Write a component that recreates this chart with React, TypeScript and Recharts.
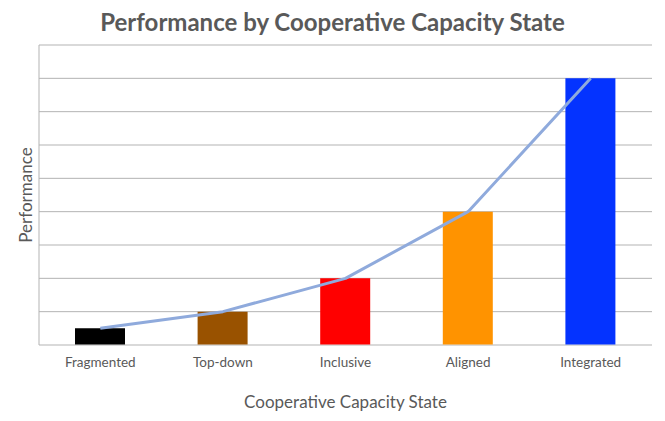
import React from 'react';
import {
  ComposedChart,
  Bar,
  Line,
  Cell,
  XAxis,
  YAxis,
  CartesianGrid,
  Label,
} from 'recharts';

const states = ['Fragmented', 'Top-down', 'Inclusive', 'Aligned', 'Integrated'];
const performance = [0.5, 1, 2, 4, 8];
const barColors = ['#000000', '#995200', '#FF0000', '#FF9300', '#0433FF'];
const yTicks = [0, 1, 2, 3, 4, 5, 6, 7, 8, 9];

const chartData = states.map((state, i) => ({ state, value: performance[i] }));

const FONT = 'Lato, "Open Sans", sans-serif';
const TEXT = '#595959';
const GRID = '#B3B3B3';

// y axis shows no numbers, only the grid
const NoTick = () => <g />;

const App: React.FC = () => {
  return (
    <div style={{ position: 'fixed', left: 0, top: 0, width: 665, height: 421, background: '#fff', fontFamily: FONT }}>
      <div
        style={{
          position: 'absolute',
          top: 7,
          left: 0,
          width: 665,
          textAlign: 'center',
          fontSize: 24,
          fontWeight: 700,
          color: TEXT,
          lineHeight: '30px',
        }}
      >
        Performance by Cooperative Capacity State
      </div>
      <ComposedChart
        width={665}
        height={421}
        data={chartData}
        margin={{ top: 45, right: 13, left: 0, bottom: 0 }}
      >
        <CartesianGrid vertical={false} stroke={GRID} strokeWidth={1} />
        <XAxis
          dataKey="state"
          height={76}
          tickLine={false}
          tickSize={0}
          tickMargin={12}
          axisLine={{ stroke: '#D9D9D9' }}
          tick={{ fill: TEXT, fontSize: 13.5, fontFamily: FONT }}
        >
          <Label
            value="Cooperative Capacity State"
            position="insideBottom"
            offset={13}
            style={{ fill: TEXT, fontSize: 17, fontFamily: FONT }}
          />
        </XAxis>
        <YAxis
          width={39}
          domain={[0, 9]}
          ticks={yTicks}
          interval={0}
          tick={NoTick}
          tickLine={false}
          axisLine={{ stroke: GRID }}
        >
          <Label
            content={() => (
              <text
                x={25.5}
                y={195}
                transform="rotate(-90 25.5 195)"
                textAnchor="middle"
                dominantBaseline="central"
                fill={TEXT}
                fontSize={17}
                fontFamily={FONT}
              >
                Performance
              </text>
            )}
          />
        </YAxis>
        <YAxis
          yAxisId="frame"
          orientation="right"
          width={0}
          domain={[0, 9]}
          tick={false}
          tickLine={false}
          axisLine={{ stroke: '#C8C8C8' }}
        />
        <Bar dataKey="value" barSize={50} isAnimationActive={false}>
          {chartData.map((d, i) => (
            <Cell key={d.state} fill={barColors[i]} />
          ))}
        </Bar>
        <Line
          type="linear"
          dataKey="value"
          stroke="#8FAADC"
          strokeWidth={3}
          strokeLinejoin="round"
          dot={false}
          isAnimationActive={false}
        />
      </ComposedChart>
    </div>
  );
};

export default App;
